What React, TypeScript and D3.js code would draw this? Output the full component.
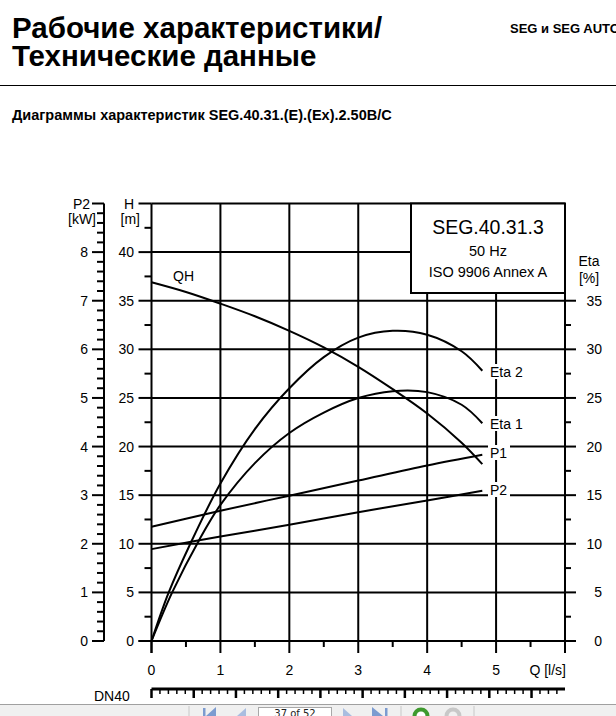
import React from 'react'
import * as d3 from 'd3'

// pump curves
const flowQH = [0, 0.5, 1, 1.5, 2, 2.5, 3, 3.5, 4, 4.5, 4.8]
const headQH = [36.9, 35.9, 34.7, 33.4, 31.9, 30.2, 28.2, 25.9, 23.4, 20.4, 18.2]

const flowEta2 = [0, 0.25, 0.55, 1, 1.5, 2, 2.5, 3, 3.5, 4, 4.5, 4.8]
const eta2 = [0, 5, 9.8, 16.2, 21.8, 26.0, 29.2, 31.2, 31.9, 31.5, 29.8, 27.8]

const flowEta1 = [0, 0.3, 0.7, 1, 1.5, 2, 2.5, 3, 3.5, 4, 4.5, 4.8]
const eta1 = [0, 5, 10.5, 14, 18.3, 21.4, 23.5, 25.0, 25.7, 25.6, 24.3, 22.4]

const flowPower = [0, 1, 2, 3, 4, 4.8]
const powerP1 = [2.35, 2.68, 2.99, 3.3, 3.61, 3.83]
const powerP2 = [1.89, 2.15, 2.39, 2.65, 2.89, 3.09]

const qTicks = [0, 1, 2, 3, 4, 5]
const headTicks = [0, 5, 10, 15, 20, 25, 30, 35, 40]
const kwTicks = [0, 1, 2, 3, 4, 5, 6, 7, 8]
const etaTicks = [0, 5, 10, 15, 20, 25, 30, 35]

const FONT = '"Liberation Sans", Arial, sans-serif'

const App = () => {
    const x = d3.scaleLinear().domain([0, 6]).range([151.5, 565])
    const h = d3.scaleLinear().domain([0, 45]).range([641, 203.5])
    const p = d3.scaleLinear().domain([0, 9]).range([641, 203.5])
    const e = d3.scaleLinear().domain([0, 45]).range([641, 203.5])

    const line = (qs: number[], vs: number[], y: d3.ScaleLinear<number, number>) =>
        d3.line<number>()
            .x((_, i) => x(qs[i]))
            .y(d => y(d))
            .curve(d3.curveCatmullRom.alpha(0.5))(vs) || ''

    // DN40 velocity ruler, m/s (inner diameter ~39.5 mm)
    const area = Math.PI * 0.0395 * 0.0395 / 4
    const vMax = 6 / 1000 / area
    const v = d3.scaleLinear().domain([0, vMax]).range([151.5, 565])
    const vTicks = d3.range(0, vMax, 0.1)

    const headMinor = d3.range(2.5, 45, 5)
    const kwMinor = d3.range(0, 9, 0.2).filter(d => Math.abs(d - Math.round(d)) > 0.01)
    const etaMinor = d3.range(2.5, 35, 5)
    const qMinor = d3.range(0.5, 6, 1)

    const curveLabels = [
        { text: 'Eta 2', y: 372 },
        { text: 'Eta 1', y: 424 },
        { text: 'P1', y: 453 },
        { text: 'P2', y: 490 },
    ]

    return (
        <svg width={616} height={716} style={{ position: 'absolute', left: 0, top: 0, background: '#fff' }}
            fontFamily={FONT}>
            {/* header */}
            <text x={12} y={38} fontSize={29.5} fontWeight="bold">Рабочие характеристики/</text>
            <text x={12} y={66} fontSize={29.5} fontWeight="bold">Технические данные</text>
            <text x={510} y={33} fontSize={13} fontWeight="bold">SEG и SEG AUTO</text>
            <line x1={0} x2={616} y1={85.5} y2={85.5} stroke="#000" strokeWidth={1} />
            <text x={12} y={120} fontSize={14.5} fontWeight="bold">Диаграммы характеристик SEG.40.31.(E).(Ex).2.50B/C</text>

            {/* grid */}
            <g stroke="#000" strokeWidth={2}>
                {qTicks.slice(1).map(d => (
                    <line key={'gx' + d} x1={x(d)} x2={x(d)} y1={h(45)} y2={h(0)} />
                ))}
                {headTicks.slice(1).map(d => (
                    <line key={'gy' + d} x1={x(0)} x2={x(6)} y1={h(d)} y2={h(d)} />
                ))}
                <line x1={x(0)} x2={x(6)} y1={h(45)} y2={h(45)} />
                <line x1={x(6)} x2={x(6)} y1={h(45)} y2={h(0)} />
            </g>

            {/* bottom Q axis */}
            <g stroke="#000" strokeWidth={2}>
                <line x1={x(0) - 13} x2={x(6) + 11} y1={h(0)} y2={h(0)} />
                {[...qTicks, 6].map(d => (
                    <line key={'qt' + d} x1={x(d)} x2={x(d)} y1={h(0)} y2={h(0) + 12} />
                ))}
                {qMinor.map(d => (
                    <line key={'qm' + d} x1={x(d)} x2={x(d)} y1={h(0)} y2={h(0) + 6} />
                ))}
            </g>
            <g fontSize={14} textAnchor="middle">
                {qTicks.map(d => (
                    <text key={'ql' + d} x={x(d)} y={675}>{d}</text>
                ))}
            </g>
            <text x={566} y={675} fontSize={14} textAnchor="end">Q [l/s]</text>

            {/* H axis */}
            <g stroke="#000" strokeWidth={2}>
                <line x1={x(0)} x2={x(0)} y1={h(45)} y2={h(0) + 12} />
                {[...headTicks, 45].map(d => (
                    <line key={'ht' + d} x1={x(0) - 13} x2={x(0)} y1={h(d)} y2={h(d)} />
                ))}
                {headMinor.map(d => (
                    <line key={'hm' + d} x1={x(0) - 7} x2={x(0)} y1={h(d)} y2={h(d)} />
                ))}
            </g>
            <g fontSize={14} textAnchor="end">
                {headTicks.map(d => (
                    <text key={'hl' + d} x={134} y={h(d) + 5}>{d}</text>
                ))}
                <text x={134} y={209}>H</text>
                <text x={140} y={224}>[m]</text>
            </g>

            {/* P2 kW axis */}
            <g stroke="#000" strokeWidth={2}>
                <line x1={104} x2={104} y1={p(9)} y2={p(0)} />
                {[...kwTicks, 9].map(d => (
                    <line key={'pt' + d} x1={92} x2={104} y1={p(d)} y2={p(d)} />
                ))}
                {kwMinor.map(d => (
                    <line key={'pm' + d} x1={97} x2={104} y1={p(d)} y2={p(d)} />
                ))}
            </g>
            <g fontSize={14} textAnchor="end">
                {kwTicks.map(d => (
                    <text key={'pl' + d} x={88} y={p(d) + 5}>{d}</text>
                ))}
                <text x={90} y={209}>P2</text>
                <text x={96} y={224}>[kW]</text>
            </g>

            {/* Eta axis */}
            <g stroke="#000" strokeWidth={2}>
                {etaTicks.map(d => (
                    <line key={'et' + d} x1={x(6)} x2={x(6) + 11} y1={e(d)} y2={e(d)} />
                ))}
                {etaMinor.map(d => (
                    <line key={'em' + d} x1={x(6)} x2={x(6) + 6} y1={e(d)} y2={e(d)} />
                ))}
            </g>
            <g fontSize={14} textAnchor="end">
                {etaTicks.map(d => (
                    <text key={'el' + d} x={602} y={e(d) + 5}>{d}</text>
                ))}
            </g>
            <text x={589} y={266} fontSize={14} textAnchor="middle">Eta</text>
            <text x={589} y={283} fontSize={14} textAnchor="middle">[%]</text>

            {/* curves */}
            <g fill="none" stroke="#000" strokeWidth={2}>
                <path d={line(flowQH, headQH, h)} />
                <path d={line(flowEta2, eta2, e)} />
                <path d={line(flowEta1, eta1, e)} />
                <path d={line(flowPower, powerP1, p)} />
                <path d={line(flowPower, powerP2, p)} />
            </g>

            <text x={173} y={281} fontSize={14}>QH</text>
            {curveLabels.map(l => (
                <g key={l.text}>
                    <rect x={488} y={l.y - 8} width={l.text.length > 2 ? 40 : 22} height={15} fill="#fff" />
                    <text x={490} y={l.y + 5} fontSize={14}>{l.text}</text>
                </g>
            ))}

            {/* type box */}
            <rect x={411} y={203.5} width={154} height={89.5} fill="#fff" stroke="#000" strokeWidth={2} />
            <g textAnchor="middle">
                <text x={488} y={234} fontSize={19.5}>SEG.40.31.3</text>
                <text x={488} y={256} fontSize={14.5}>50 Hz</text>
                <text x={488} y={277} fontSize={14.5}>ISO 9906 Annex A</text>
            </g>

            {/* DN40 ruler */}
            <text x={94} y={701} fontSize={14}>DN40</text>
            <g stroke="#000">
                <line x1={v(0)} x2={565} y1={689} y2={689} strokeWidth={3} />
                {vTicks.map((d, i) => (
                    <line key={'v' + i} x1={v(d)} x2={v(d)} y1={689} y2={i % 5 === 0 ? 698 : 694}
                        strokeWidth={i % 5 === 0 ? 2.5 : 1.5} />
                ))}
            </g>

            {/* viewer toolbar */}
            <rect x={0} y={704} width={616} height={12} fill="#f0f0f0" />
            <line x1={0} x2={616} y1={704.5} y2={704.5} stroke="#a0a0a0" />
            <g stroke="#c8c8c8">
                <line x1={189} x2={189} y1={706} y2={716} />
                <line x1={401} x2={401} y1={706} y2={716} />
                <line x1={474} x2={474} y1={706} y2={716} />
            </g>
            <rect x={258.5} y={707.5} width={73} height={10} fill="#fff" stroke="#a8a8a8" />
            <text x={295} y={717} fontSize={10} textAnchor="middle" fill="#222" fontFamily="'DejaVu Sans', sans-serif">37 of 52</text>
            <g fill="#7c9bd0">
                <rect x={203} y={708} width={2.5} height={9} />
                <polygon points="216,707 206,716 216,716" />
                <polygon points="246,708 237,716 246,716" fill="#a9bde0" />
                <polygon points="343,708 352,716 343,716" fill="#a9bde0" />
                <polygon points="372,707 383,716 372,716" />
                <rect x={385} y={708} width={2.5} height={9} />
            </g>
            <circle cx={421} cy={716} r={8.5} fill="#3f9a2e" />
            <circle cx={421} cy={716} r={4.5} fill="#fff" />
            <circle cx={453} cy={716} r={8.5} fill="#c8c8c8" />
            <circle cx={453} cy={716} r={4.5} fill="#f0f0f0" />
        </svg>
    )
}

export default App
